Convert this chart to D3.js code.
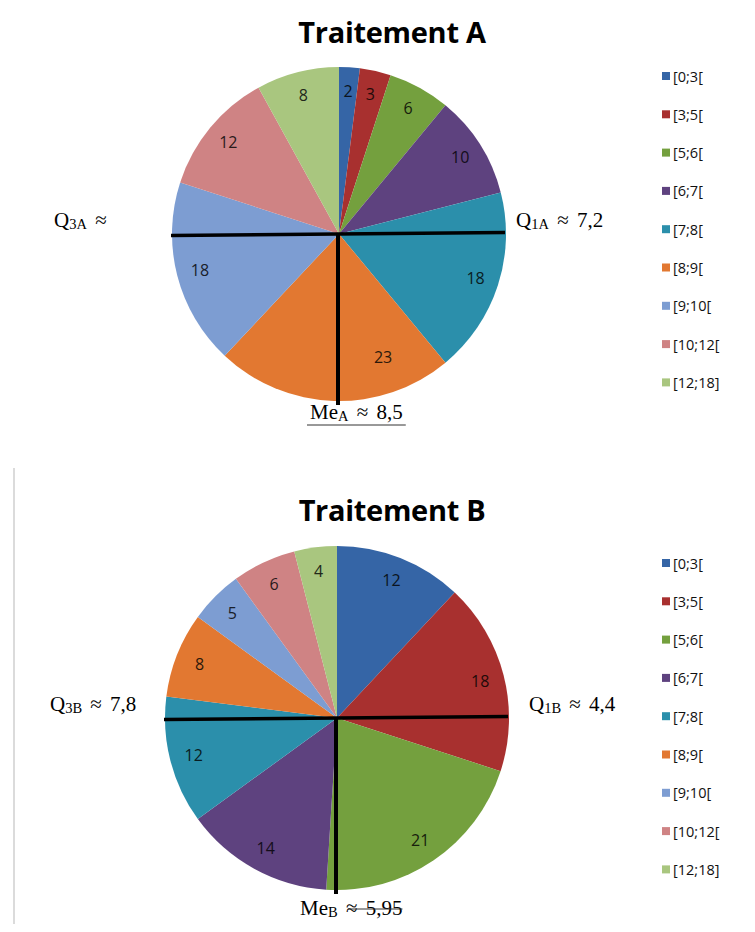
<!DOCTYPE html>
<html><head><meta charset="utf-8">
<script src="https://cdn.jsdelivr.net/npm/d3@7"></script>
<style>
html,body{margin:0;padding:0;background:#fff;}
svg{display:block;}
</style></head>
<body>
<svg id="chart" width="755" height="932"></svg>
<script>
const categories = ["[0;3[", "[3;5[", "[5;6[", "[6;7[", "[7;8[", "[8;9[", "[9;10[", "[10;12[", "[12;18]"];
const valuesA = [2, 3, 6, 10, 18, 23, 18, 12, 8];
const valuesB = [12, 18, 21, 14, 12, 8, 5, 6, 4];
const colors = ["#3565a6", "#a8302f", "#74a03e", "#5e427f", "#2b8fab", "#e27831", "#7d9dd2", "#cf8384", "#a9c67f"];
const titles = ["Traitement A", "Traitement B"];
const q1Labels = [["1A", " ≈ 7,2"], ["1B", " ≈ 4,4"]];
const q3Labels = [["3A", " ≈"], ["3B", " ≈ 7,8"]];
const meLabels = [["A", " ≈ 8,5"], ["B", " ≈ 5,95"]];

const svg = d3.select("#chart");

// faint frame line on the left of the second chart
svg.append("line").attr("x1", 14).attr("x2", 14).attr("y1", 468).attr("y2", 924)
  .attr("stroke", "#cfcfcf").attr("stroke-width", 1.5);

const panels = [
  {values: valuesA, cx: 339, cy: 234, r: 167, titleY: 43, legendY: 76, q3x: 54, q1x: 516, meX: 310, meY: 419, meStyle: "under"},
  {values: valuesB, cx: 337, cy: 718, r: 172, titleY: 521, legendY: 563, q3x: 50, q1x: 529, meX: 300, meY: 915, meStyle: "strike"}
];

const color = d3.scaleOrdinal().domain(categories).range(colors);

panels.forEach((p, idx) => {
  const g = svg.append("g");
  g.append("text").attr("x", 392).attr("y", p.titleY).attr("text-anchor", "middle")
    .attr("font-family", "'Open Sans', Lato, sans-serif").attr("font-weight", "bold")
    .attr("font-size", 29).attr("letter-spacing", -0.3).attr("fill", "#000").text(titles[idx]);

  const data = categories.map((c, i) => ({cat: c, value: p.values[i]}));
  const pie = d3.pie().sort(null).value(d => d.value).startAngle(0).endAngle(2 * Math.PI);
  const arcs = pie(data);
  const arc = d3.arc().innerRadius(0).outerRadius(p.r);
  const pg = g.append("g").attr("transform", `translate(${p.cx},${p.cy})`);
  pg.selectAll("path").data(arcs).join("path")
    .attr("d", arc).attr("fill", d => color(d.data.cat));

  // labels
  pg.selectAll("text.lbl").data(arcs).join("text").attr("class", "lbl")
    .each(function(d) {
      let a = (d.startAngle + d.endAngle) / 2;
      let rr = p.r * 0.86;
      // slice cut by the median line: place label in its right part
      if (d.startAngle < Math.PI && d.endAngle > Math.PI && Math.abs(a - Math.PI) < 0.25) {
        a = (d.startAngle + Math.PI) / 2;
        rr = p.r * 0.78;
      }
      d3.select(this).attr("x", rr * Math.sin(a)).attr("y", -rr * Math.cos(a));
    })
    .attr("text-anchor", "middle").attr("dominant-baseline", "central")
    .attr("font-family", "'Open Sans', 'Noto Sans', sans-serif").attr("font-size", 16)
    .attr("fill", d => d3.color(color(d.data.cat)).darker(4.5))
    .text(d => d.data.value);

  // quartile lines
  pg.append("line").attr("x1", -p.r - 1).attr("x2", p.r - 1).attr("y1", 1.5).attr("y2", -1.5)
    .attr("stroke", "#000").attr("stroke-width", 3.5);
  pg.append("line").attr("x1", -1).attr("x2", -1).attr("y1", 0).attr("y2", p.r + 4)
    .attr("stroke", "#000").attr("stroke-width", 4);

  // annotations
  const serif = "'Liberation Serif', 'Times New Roman', serif";
  function annot(x, y, main, sub, rest) {
    const t = g.append("text").attr("x", x).attr("y", y).attr("font-family", serif)
      .attr("font-size", 21).attr("fill", "#000");
    t.append("tspan").text(main);
    t.append("tspan").attr("font-size", 14.5).attr("dy", 2).text(sub);
    t.append("tspan").attr("dy", -2).attr("word-spacing", 3).text(rest);
    return t;
  }
  annot(p.q3x, p.cy - 7, "Q", q3Labels[idx][0], q3Labels[idx][1]);
  annot(p.q1x, p.cy - 7, "Q", q1Labels[idx][0], q1Labels[idx][1]);
  const me = annot(p.meX, p.meY, "Me", meLabels[idx][0], meLabels[idx][1]);
  const bb = me.node().getBBox();
  if (p.meStyle === "under") {
    g.append("line").attr("x1", bb.x - 3).attr("x2", bb.x + bb.width + 3).attr("y1", p.meY + 6).attr("y2", p.meY + 6)
      .attr("stroke", "#333").attr("stroke-width", 1);
  } else {
    g.append("line").attr("x1", bb.x + 48).attr("x2", bb.x + bb.width).attr("y1", p.meY - 6).attr("y2", p.meY - 6)
      .attr("stroke", "#333").attr("stroke-width", 1);
  }

  // legend
  const lg = g.append("g").attr("transform", `translate(662,${p.legendY})`);
  const items = lg.selectAll("g").data(categories).join("g")
    .attr("transform", (d, i) => `translate(0,${i * 38.3})`);
  items.append("rect").attr("x", 0).attr("y", -4).attr("width", 8).attr("height", 8)
    .attr("fill", d => color(d));
  items.append("text").attr("x", 11).attr("y", 0).attr("dominant-baseline", "central")
    .attr("font-family", "'Open Sans', 'Noto Sans', sans-serif").attr("font-size", 14.5)
    .attr("fill", "#111").text(d => d);
});
</script>
</body></html>
